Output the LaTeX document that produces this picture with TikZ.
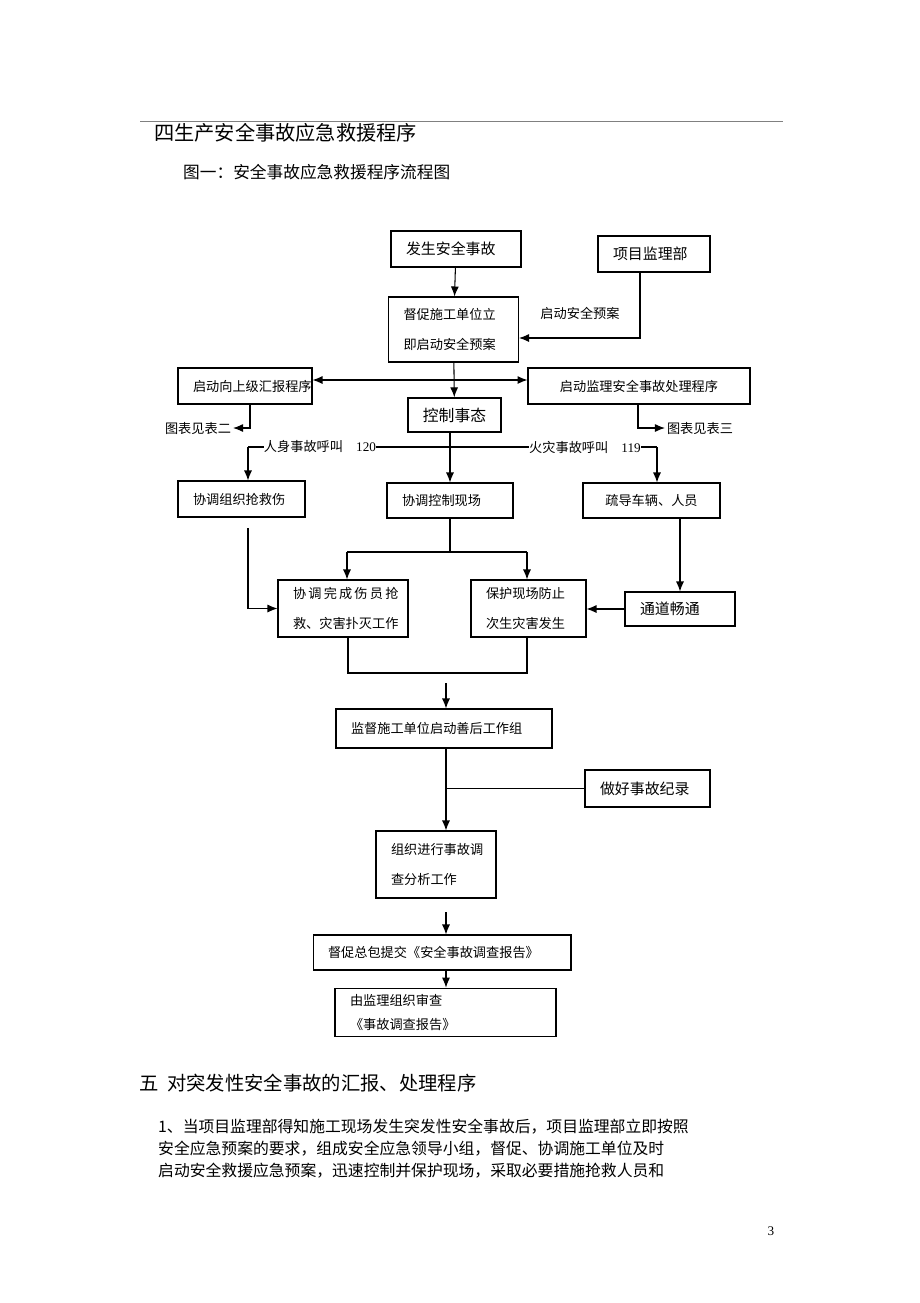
\documentclass[tikz,border=0pt]{standalone}
\usepackage{fontspec}
\setmainfont{Liberation Serif}
\newfontfamily\cjk{Noto Sans CJK SC}
\usetikzlibrary{arrows.meta,positioning}
\tikzset{>={Latex[length=2mm,width=1.6mm]},
every node/.style={font=\cjk\fontsize{7.5}{14}\selectfont}, % text in the chart
box/.style={draw,semithick,align=left,inner xsep=0.3cm},
line/.style={semithick},
note/.style={inner sep=1pt}
}
\begin{document}
\begin{tikzpicture}[x=0.02cm,y=-0.02cm]
    \useasboundingbox (0,0) rectangle (920,1303);
    \draw[thin,gray] (140,121) -- (783,121);
    \node[anchor=west,font=\cjk\fontsize{11.5}{14}\selectfont] (title) at (148,133) {四生产安全事故应急救援程序};
    \node[anchor=west,font=\cjk\fontsize{9.5}{14}\selectfont] (subtitle) at (177,172) {图一：安全事故应急救援程序流程图};

    \node[box,minimum width=2.6cm,minimum height=0.72cm,text width=2cm,font=\cjk\fontsize{8.5}{14}\selectfont] (occur) at (456,249) {发生安全事故};
    \node[box,minimum width=2.24cm,minimum height=0.72cm,text width=1.64cm,font=\cjk\fontsize{8.5}{14}\selectfont] (jlb) at (654,254) {项目监理部};
    \node[box,minimum width=2.58cm,minimum height=1.3cm,text width=2cm,font=\cjk\fontsize{7.5}{17}\selectfont] (urge) at (453.5,329.5) {督促施工单位立\\即启动安全预案};
    \node[box,minimum width=2.68cm,minimum height=0.72cm,text width=2.08cm] (report) at (245,386) {启动向上级汇报程序};
    \node[box,minimum width=4.44cm,minimum height=0.72cm,text width=3.84cm,align=center] (jlproc) at (639,386) {启动监理安全事故处理程序};
    \node[box,thick,minimum width=1.82cm,minimum height=0.68cm,align=center,font=\cjk\fontsize{9}{14}\selectfont] (control) at (454.5,415) {控制事态};
    \node[box,minimum width=2.54cm,minimum height=0.72cm,text width=1.94cm] (rescue) at (241.5,499) {协调组织抢救伤};
    \node[box,minimum width=2.52cm,minimum height=0.7cm,text width=1.92cm] (site) at (450,500.5) {协调控制现场};
    \node[box,minimum width=2.74cm,minimum height=0.7cm,text width=2.14cm,align=center] (traffic) at (651.5,500.5) {疏导车辆、人员};
    \node[box,minimum width=2.6cm,minimum height=1.14cm,text width=2cm,font=\cjk\fontsize{7.5}{17}\selectfont] (finish) at (343,608.5) {协\,调\,完\,成\,伤\,员\,抢\\救、灾害扑灭工作};
    \node[box,minimum width=2.3cm,minimum height=1.14cm,text width=1.7cm,font=\cjk\fontsize{7.5}{17}\selectfont] (protect) at (528.5,608.5) {保护现场防止\\次生灾害发生};
    \node[box,minimum width=2.2cm,minimum height=0.68cm,text width=1.6cm,font=\cjk\fontsize{8.5}{14}\selectfont] (channel) at (680,609) {通道畅通};
    \node[box,minimum width=4.32cm,minimum height=0.78cm,text width=3.72cm] (after) at (444,728.5) {监督施工单位启动善后工作组};
    \node[box,minimum width=2.5cm,minimum height=0.74cm,text width=1.9cm,font=\cjk\fontsize{8.5}{14}\selectfont] (record) at (647.5,788.5) {做好事故纪录};
    \node[box,minimum width=2.4cm,minimum height=1.34cm,text width=1.8cm,font=\cjk\fontsize{7.5}{17}\selectfont] (investigate) at (436,864.5) {组织进行事故调\\查分析工作};
    \node[box,minimum width=5.16cm,minimum height=0.7cm,text width=4.56cm] (submit) at (442,952.5) {督促总包提交《安全事故调查报告》};
    \node[box,minimum width=4.42cm,minimum height=0.78cm,text width=3.82cm] (review) at (445.5,1012.5) {由监理组织审查 \ 《事故调查报告》};

    \node[note] (see2) at (198,428) {图表见表二};
    \node[note] (see3) at (700,428) {图表见表三};
    \node[note] (start) at (580,313) {启动安全预案};

    \coordinate (jlbturn) at (640,338);
    \coordinate (bar1) at (454,380);
    \coordinate (bar2l) at (248,447);
    \coordinate (bar2r) at (657,447);
    \coordinate (bar3l) at (347,552);
    \coordinate (bar3r) at (527,552);
    \coordinate (rescueout) at (248,528);
    \coordinate (merge) at (446,683);
    \coordinate (invout) at (446,912);

    \draw[line,->] (occur) -- (urge);
    \draw[line,->] (jlb.south -| jlbturn) -- (jlbturn) -- (urge.east |- jlbturn);
    \draw[line,->] (urge) -- (control);
    \draw[line,<->] (report.east |- bar1) -- (jlproc.west |- bar1);
    \draw[line,->] (report.south -| 250,0) |- (see2.east);
    \draw[line,->] (jlproc.south -| 638,0) |- (see3.west);
    \draw[line,->] (control.south -| site.north) -- (site.north);
    \draw[line,->] (bar2l) -- (rescue.north -| bar2l);
    \draw[line,->] (bar2r) -- (traffic.north -| bar2r);
    \draw[line] (bar2l) -- (bar2r);
    \node[fill=white,inner sep=0pt,font=\fontsize{7.5}{10}\selectfont] (call120) at (320,447) {{\cjk 人身事故呼叫}\quad 120};
    \node[fill=white,inner sep=0pt,font=\fontsize{7.5}{10}\selectfont] (call119) at (585,447) {{\cjk 火灾事故呼叫}\quad 119};
    \draw[line] (site.south) -- (site.south |- bar3l);
    \draw[line,->] (bar3l) -- (finish.north -| bar3l);
    \draw[line,->] (bar3r) -- (protect.north -| bar3r);
    \draw[line] (bar3l) -- (bar3r);
    \draw[line,->] (rescueout) |- (finish.west);
    \draw[line,->] (traffic.south -| channel.north) -- (channel.north);
    \draw[line,->] (channel.west) -- (protect.east |- channel.west);
    \draw[line] (finish.south -| 348,0) |- (527,673) -- (protect.south -| 527,0);
    \draw[line,->] (merge) -- (after.north -| merge);
    \draw[line,->] (after.south -| merge) -- (investigate.north -| merge);
    \draw[line] (record.west) -- (merge |- record.west);
    \draw[line,->] (invout) -- (submit.north -| invout);
    \draw[line,->] (submit.south -| invout) -- (review.north -| invout);

    \node[anchor=west,font=\cjk\fontsize{11}{14}\selectfont] (sec5) at (133,1083) {五\ \ 对突发性安全事故的汇报、处理程序};
    \node[anchor=north west,text width=12.65cm,align=justify,font=\cjk\fontsize{9}{12.6}\selectfont] (para) at (152,1113)
      {\hangindent=0.44cm\hangafter=1 1、当项目监理部得知施工现场发生突发性安全事故后，项目监理部立即按照 安全应急预案的要求，组成安全应急领导小组，督促、协调施工单位及时 启动安全救援应急预案，迅速控制并保护现场，采取必要措施抢救人员和};
    \node[font=\fontsize{7.5}{10}\selectfont] (page) at (771,1231) {3};
\end{tikzpicture}
\end{document}
